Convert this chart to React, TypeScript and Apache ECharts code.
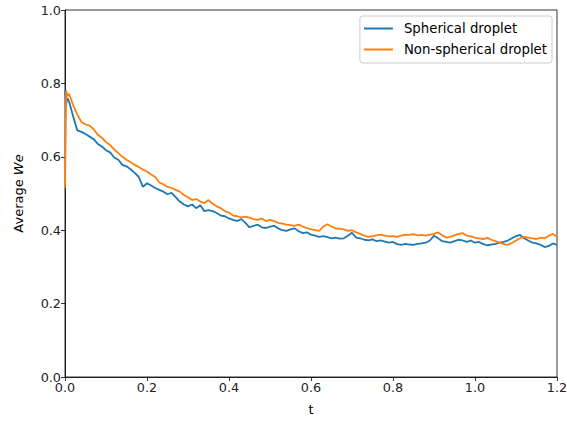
import React, { useEffect, useRef } from "react";
import * as echarts from "echarts";

const times = [
  0, 0.003, 0.006, 0.01, 0.02, 0.03, 0.04, 0.05, 0.06, 0.07, 0.08, 0.09,
  0.1, 0.11, 0.12, 0.13, 0.14, 0.15, 0.16, 0.17, 0.18, 0.19,
  0.2, 0.21, 0.22, 0.23, 0.24, 0.25, 0.26, 0.27, 0.28, 0.29,
  0.3, 0.31, 0.32, 0.33, 0.34, 0.35, 0.36, 0.37, 0.38, 0.39,
  0.4, 0.41, 0.42, 0.43, 0.44, 0.45, 0.46, 0.47, 0.48, 0.49,
  0.5, 0.51, 0.52, 0.53, 0.54, 0.55, 0.56, 0.57, 0.58, 0.59,
  0.6, 0.61, 0.62, 0.63, 0.64, 0.65, 0.66, 0.67, 0.68, 0.69,
  0.7, 0.71, 0.72, 0.73, 0.74, 0.75, 0.76, 0.77, 0.78, 0.79,
  0.8, 0.81, 0.82, 0.83, 0.84, 0.85, 0.86, 0.87, 0.88, 0.89,
  0.9, 0.91, 0.92, 0.93, 0.94, 0.95, 0.96, 0.97, 0.98, 0.99,
  1.0, 1.01, 1.02, 1.03, 1.04, 1.05, 1.06, 1.07, 1.08, 1.09,
  1.1, 1.11, 1.12, 1.13, 1.14, 1.15, 1.16, 1.17, 1.18, 1.19, 1.2,
];

const spherical = [
  0.78, 0.745, 0.76, 0.75, 0.71, 0.672, 0.668, 0.662, 0.655, 0.648, 0.635, 0.628,
  0.618, 0.612, 0.598, 0.592, 0.578, 0.574, 0.566, 0.556, 0.545, 0.518,
  0.528, 0.522, 0.515, 0.51, 0.505, 0.498, 0.502, 0.49, 0.478, 0.47,
  0.465, 0.47, 0.46, 0.468, 0.452, 0.455, 0.452, 0.447, 0.44, 0.438,
  0.432, 0.428, 0.425, 0.43, 0.42, 0.408, 0.412, 0.415, 0.408, 0.406,
  0.41, 0.412, 0.405, 0.4, 0.398, 0.402, 0.405, 0.397, 0.392, 0.394,
  0.388, 0.385, 0.382, 0.384, 0.381, 0.378, 0.38, 0.377, 0.378, 0.385,
  0.393, 0.38, 0.378, 0.374, 0.372, 0.375, 0.37, 0.372, 0.369, 0.366,
  0.368, 0.362, 0.36, 0.363, 0.361, 0.36, 0.363, 0.364, 0.366, 0.372,
  0.385, 0.378, 0.37, 0.368, 0.366, 0.37, 0.374, 0.372, 0.368, 0.372,
  0.366, 0.368, 0.362, 0.359, 0.361, 0.363, 0.366, 0.368, 0.372, 0.378,
  0.384, 0.387, 0.378, 0.372, 0.366, 0.364, 0.36, 0.354, 0.357, 0.364, 0.36,
];

const nonSpherical = [
  0.515, 0.78, 0.765, 0.772, 0.74, 0.715, 0.695, 0.688, 0.685, 0.675, 0.66, 0.652,
  0.64, 0.632, 0.62, 0.61, 0.6, 0.592, 0.585, 0.578, 0.572, 0.565,
  0.56, 0.552, 0.545, 0.53, 0.525, 0.518, 0.515, 0.51, 0.505, 0.496,
  0.49, 0.482, 0.485, 0.478, 0.474, 0.482, 0.472, 0.465, 0.46, 0.452,
  0.448, 0.44, 0.438, 0.435, 0.437, 0.434, 0.43, 0.428, 0.432, 0.425,
  0.428, 0.425, 0.42, 0.418, 0.415, 0.414, 0.412, 0.415, 0.41, 0.406,
  0.402, 0.4, 0.398, 0.41, 0.416, 0.41, 0.405, 0.404, 0.402, 0.398,
  0.4, 0.394, 0.39, 0.385, 0.382, 0.384, 0.386, 0.388, 0.385, 0.383,
  0.384, 0.382, 0.385, 0.388, 0.387, 0.389, 0.386, 0.387, 0.385, 0.388,
  0.39, 0.394, 0.386, 0.38, 0.382, 0.386, 0.39, 0.392, 0.385, 0.383,
  0.38, 0.378, 0.376, 0.379, 0.374, 0.37, 0.366, 0.362, 0.36, 0.365,
  0.372, 0.378, 0.382, 0.38, 0.378, 0.376, 0.38, 0.378, 0.385, 0.39, 0.382,
];

const seriesNames = ["Spherical droplet", "Non-spherical droplet"];
const colors = ["#1f77b4", "#ff7f0e"];

const FONT = "DejaVu Sans";

export default function App() {
  const ref = useRef<HTMLDivElement>(null);
  useEffect(() => {
    if (!ref.current) return;
    const chart = echarts.init(ref.current, undefined, { renderer: "svg" });
    const axisCommon = {
      axisLine: { show: true, lineStyle: { color: "#000", width: 0.8 } },
      axisTick: { show: true, inside: false, length: 4, lineStyle: { color: "#000", width: 0.8 } },
      splitLine: { show: false },
      axisLabel: {
        color: "#222",
        fontFamily: FONT,
        fontSize: 12.8,
        margin: 4,
        formatter: (v: number) => v.toFixed(1),
      },
    };
    chart.setOption({
      animation: false,
      color: colors,
      grid: {
        left: 65,
        right: 10,
        top: 10,
        bottom: 46,
        show: true,
        borderColor: "#000",
        borderWidth: 0.8,
        backgroundColor: "transparent",
        outerBoundsMode: "none",
        containLabel: false,
      },
      legend: {
        right: 15,
        top: 16,
        orient: "vertical",
        data: seriesNames,
        icon: "rect",
        itemWidth: 29,
        itemHeight: 2,
        itemGap: 6,
        backgroundColor: "rgba(255,255,255,0.8)",
        borderColor: "#cccccc",
        borderWidth: 1,
        borderRadius: 3,
        padding: [5, 5, 6, 4],
        textStyle: {
          fontFamily: FONT,
          fontSize: 13.3,
          lineHeight: 15,
          color: "#000",
          padding: [0, 0, 0, 6],
        },
      },
      xAxis: {
        type: "value",
        min: 0,
        max: 1.2,
        interval: 0.2,
        name: "t",
        nameLocation: "middle",
        nameGap: 26,
        nameTextStyle: { fontFamily: FONT, fontSize: 13, color: "#000" },
        ...axisCommon,
      },
      yAxis: {
        type: "value",
        min: 0,
        max: 1,
        interval: 0.2,
        name: "Average {i|We}",
        nameLocation: "middle",
        nameGap: 40,
        nameRotate: 90,
        nameTextStyle: {
          fontFamily: FONT,
          fontSize: 13,
          color: "#000",
          rich: { i: { fontStyle: "italic", fontFamily: FONT, fontSize: 13, color: "#000" } },
        },
        ...axisCommon,
      },
      series: [
        {
          name: seriesNames[0],
          type: "line",
          showSymbol: false,
          symbol: "none",
          lineStyle: { width: 1.8, color: colors[0] },
          data: times.map((t, i) => [t, spherical[i]]),
          z: 2,
        },
        {
          name: seriesNames[1],
          type: "line",
          showSymbol: false,
          symbol: "none",
          lineStyle: { width: 1.8, color: colors[1] },
          data: times.map((t, i) => [t, nonSpherical[i]]),
          z: 3,
        },
      ],
    });
    return () => chart.dispose();
  }, []);
  return (
    <div
      ref={ref}
      style={{ position: "fixed", left: 0, top: 0, width: 567, height: 423, background: "#fff" }}
    />
  );
}
